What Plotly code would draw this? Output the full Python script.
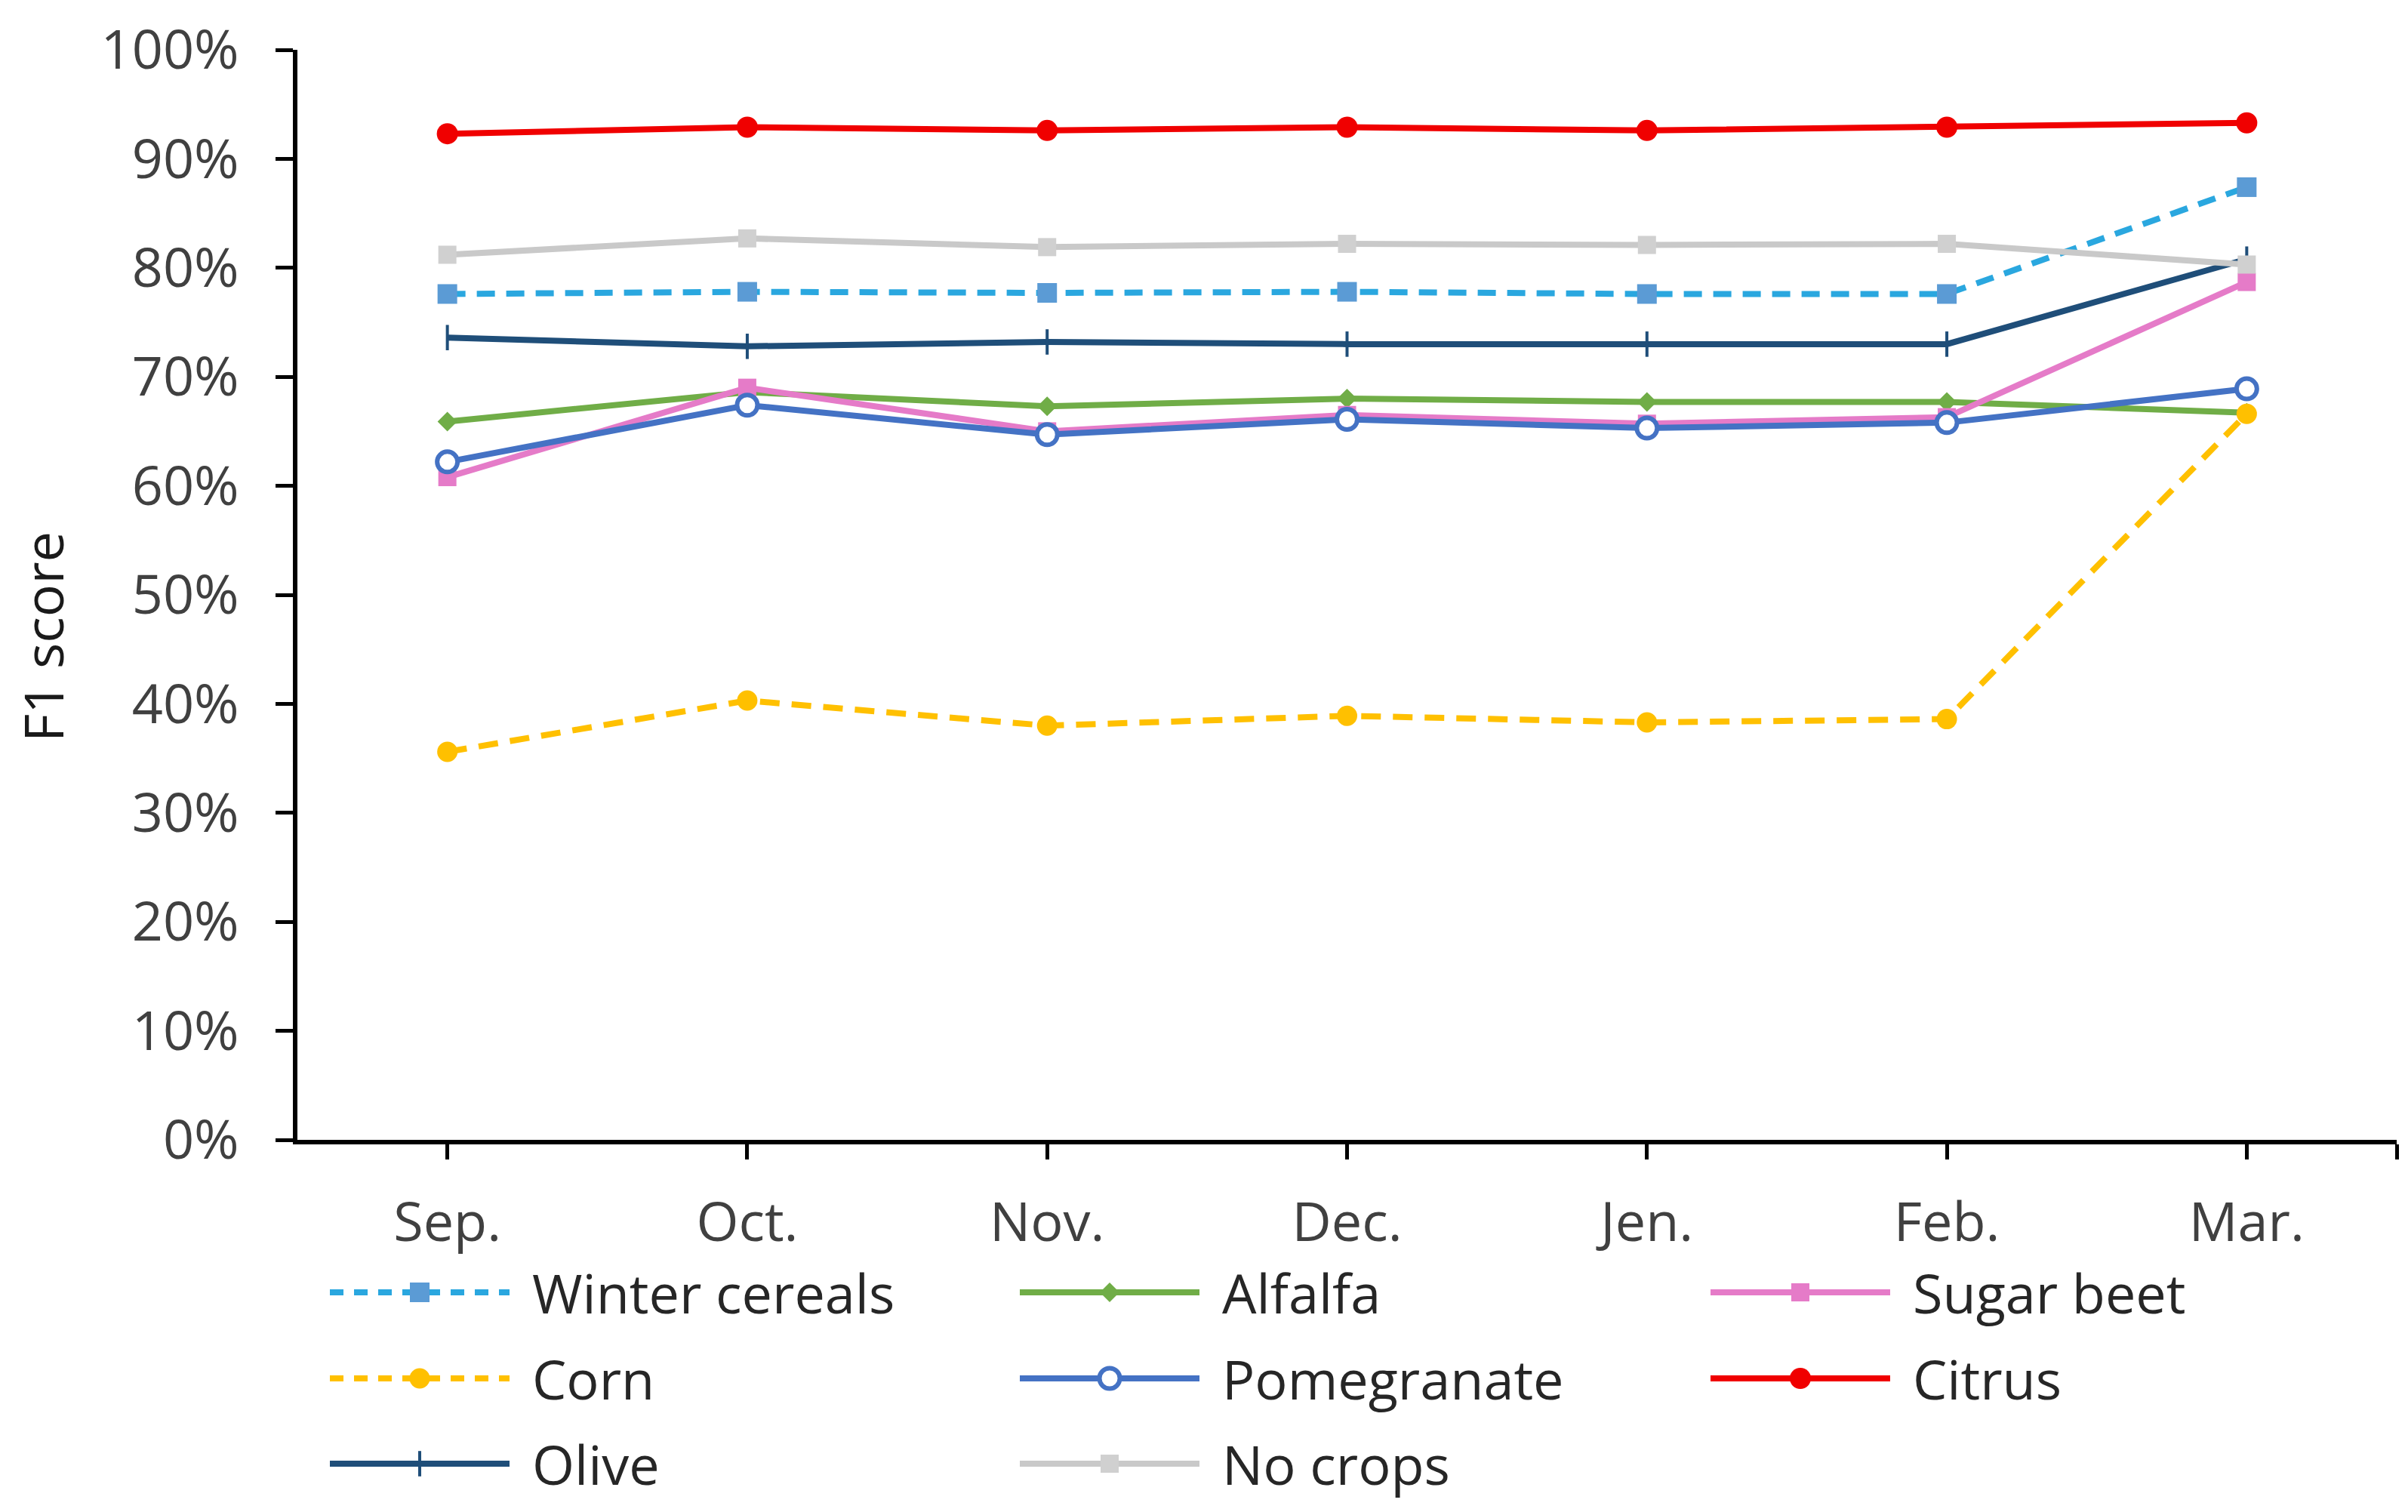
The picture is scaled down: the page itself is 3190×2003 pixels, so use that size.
import plotly.graph_objects as go

# ---------------- data ----------------
months = ["Sep.", "Oct.", "Nov.", "Dec.", "Jen.", "Feb.", "Mar."]
series_names = ["Winter cereals", "Alfalfa", "Sugar beet", "Corn",
                "Pomegranate", "Citrus", "Olive", "No crops"]
winter_cereals = [77.6, 77.8, 77.7, 77.8, 77.6, 77.6, 87.4]
alfalfa = [65.9, 68.6, 67.3, 68.0, 67.7, 67.7, 66.7]
sugar_beet = [60.8, 69.0, 65.0, 66.5, 65.7, 66.3, 78.7]
corn = [35.6, 40.3, 38.0, 38.9, 38.3, 38.6, 66.6]
pomegranate = [62.2, 67.4, 64.7, 66.1, 65.3, 65.8, 68.9]
citrus = [92.3, 92.9, 92.6, 92.9, 92.6, 92.9, 93.3]
olive = [73.6, 72.8, 73.2, 73.0, 73.0, 73.0, 80.8]
no_crops = [81.2, 82.7, 81.9, 82.2, 82.1, 82.2, 80.3]
y_tick_values = [0, 10, 20, 30, 40, 50, 60, 70, 80, 90, 100]
y_title = "F1 score"

values = [winter_cereals, alfalfa, sugar_beet, corn,
          pomegranate, citrus, olive, no_crops]

# ---------------- styles ----------------
W, H = 3190, 2003
FONT = "Open Sans"
FS = 72
LW = 8
styles = [
    dict(line="#2AA7DF", dash="24px,15px", msym="square", mcol="#5B9BD5", msize=26, mline=None),
    dict(line="#70AD47", dash="solid", msym="diamond", mcol="#70AD47", msize=20, mline=None),
    dict(line="#E57BC8", dash="solid", msym="square", mcol="#E57BC8", msize=24, mline=None),
    dict(line="#FFC000", dash="26px,16px", msym="circle", mcol="#FFC000", msize=27, mline=None),
    dict(line="#4472C4", dash="solid", msym="circle", mcol="#FFFFFF", msize=27, mline=("#4472C4", 6)),
    dict(line="#F00000", dash="solid", msym="circle", mcol="#F00000", msize=28, mline=None),
    dict(line="#1F4E79", dash="solid", msym="line-ns", mcol="#1F4E79", msize=24, mline=("#1F4E79", 4)),
    dict(line="#C9C9C9", dash="solid", msym="square", mcol="#D0D0D0", msize=24, mline=None),
]

# plot area in pixels
PL, PR, PT, PB = 386, 3167, 58, 1502

fig = go.Figure()

for name, vals, st in zip(series_names, values, styles):
    marker = dict(symbol=st["msym"], color=st["mcol"], size=st["msize"])
    if st["mline"]:
        marker["line"] = dict(color=st["mline"][0], width=st["mline"][1])
    else:
        marker["line"] = dict(width=0)
    fig.add_trace(go.Scatter(
        x=months, y=vals, name=name, mode="lines+markers",
        line=dict(color=st["line"], width=LW, dash=st["dash"]),
        marker=marker, showlegend=False, xaxis="x", yaxis="y",
        cliponaxis=False,
    ))

# ---------------- custom legend (pixel-space overlay axis) ----------------
col_x = [429, 1343, 2258]
row_y = [1704, 1818, 1931]
sym_len = 238
text_gap = 266
for i, (name, st) in enumerate(zip(series_names, styles)):
    r, c = divmod(i, 3)
    x0 = col_x[c]
    y0 = row_y[r]
    ldash = "18px,14px" if st["dash"] != "solid" else "solid"
    fig.add_trace(go.Scatter(
        x=[x0, x0 + sym_len], y=[y0, y0], mode="lines",
        line=dict(color=st["line"], width=LW, dash=ldash),
        showlegend=False, xaxis="x2", yaxis="y2", hoverinfo="skip",
    ))
    marker = dict(symbol=st["msym"], color=st["mcol"], size=st["msize"])
    if st["mline"]:
        marker["line"] = dict(color=st["mline"][0], width=st["mline"][1])
    else:
        marker["line"] = dict(width=0)
    fig.add_trace(go.Scatter(
        x=[x0 + sym_len / 2], y=[y0], mode="markers", marker=marker,
        showlegend=False, xaxis="x2", yaxis="y2", hoverinfo="skip",
    ))
    fig.add_annotation(
        x=x0 + text_gap, y=y0, xref="x2", yref="y2", text=name,
        showarrow=False, xanchor="left", yanchor="middle",
        font=dict(family=FONT, size=FS, color="#262626"),
    )

# y-axis title
fig.add_annotation(
    x=48, y=836, xref="x2", yref="y2", text=y_title, textangle=-90,
    showarrow=False, xanchor="center", yanchor="middle",
    font=dict(family=FONT, size=FS, color="#1a1a1a"),
)

fig.update_layout(
    width=W, height=H,
    margin=dict(l=0, r=0, t=0, b=0, pad=0, autoexpand=False),
    paper_bgcolor="white", plot_bgcolor="rgba(0,0,0,0)",
    font=dict(family=FONT, size=FS, color="#404040"),
    xaxis=dict(
        domain=[PL / W, PR / W], anchor="y", type="category",
        range=[-0.5, 6.5], automargin=False,
        tickmode="array", tickvals=[0, 1, 2, 3, 4, 5, 6, 6.5],
        ticktext=months + [""],
        showline=True, linecolor="#000000", linewidth=6,
        ticks="outside", ticklen=20, tickwidth=5, tickcolor="#000000",
        showgrid=False, zeroline=False, ticklabelstandoff=22,
        tickfont=dict(family=FONT, size=FS, color="#404040"),
    ),
    yaxis=dict(
        domain=[1 - PB / H, 1 - PT / H], anchor="x",
        range=[0, 100], tickmode="array", tickvals=y_tick_values,
        ticktext=[f"{v}%" for v in y_tick_values], automargin=False,
        showline=True, linecolor="#000000", linewidth=6,
        ticks="outside", ticklen=23, tickwidth=5, tickcolor="#000000",
        showgrid=False, zeroline=False, ticklabelstandoff=34,
        tickfont=dict(family=FONT, size=FS, color="#404040"),
    ),
    xaxis2=dict(domain=[0, 1], anchor="y2", range=[0, W], visible=False,
                fixedrange=True, automargin=False),
    yaxis2=dict(domain=[0, 1], anchor="x2", range=[H, 0], visible=False,
                fixedrange=True, automargin=False),
)

fig.write_html("out.html")
